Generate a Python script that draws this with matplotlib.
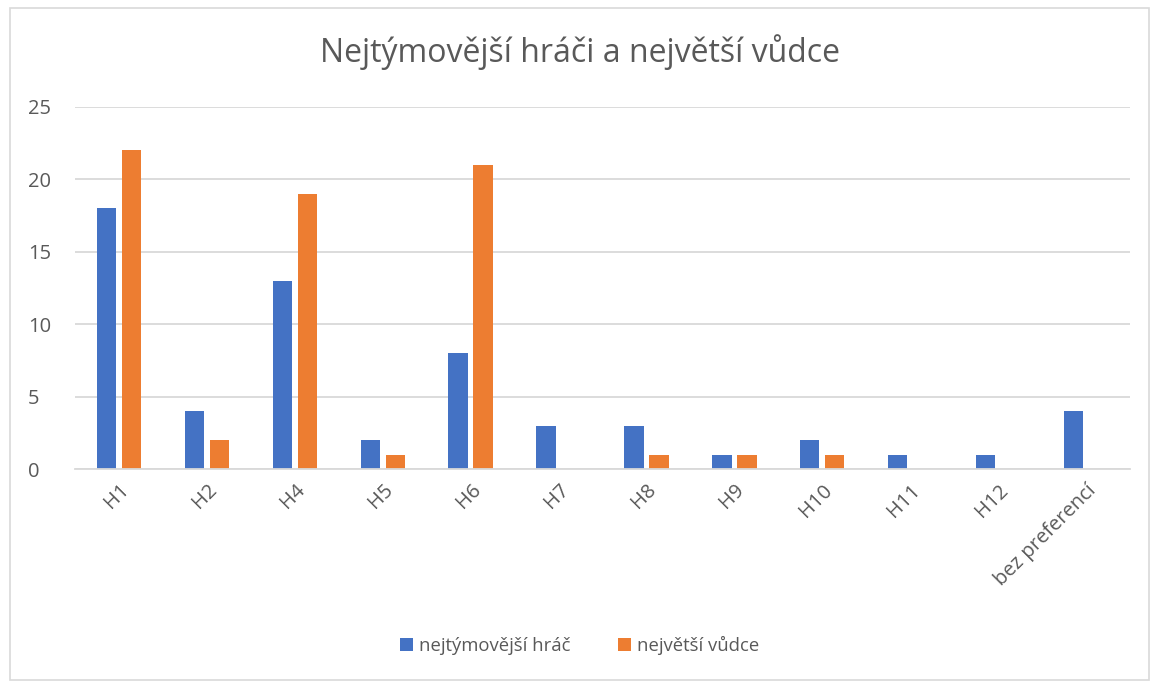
import numpy as np
import matplotlib.pyplot as plt
from matplotlib.patches import Rectangle

categories = ["H1", "H2", "H4", "H5", "H6", "H7", "H8", "H9", "H10", "H11", "H12", "bez preferencí"]
team_players = [18, 4, 13, 2, 8, 3, 3, 1, 2, 1, 1, 4]
leaders = [22, 2, 19, 1, 21, 0, 1, 1, 1, 0, 0, 0]

plt.rcParams['font.family'] = ['Open Sans', 'DejaVu Sans']
text_color = "#595959"
grid_color = "#d9d9d9"

fig = plt.figure(figsize=(11.59, 6.88), dpi=100)
ax = fig.add_axes([0.0647, 0.3183, 0.9103, 0.5262])

x = np.arange(len(categories))
w = 0.22
ax.bar(x - 0.142, team_players, w, color="#4472c4", label="nejtýmovější hráč")
ax.bar(x + 0.142, leaders, w, color="#ed7d31", label="největší vůdce")

ax.set_xlim(-0.5, len(categories) - 0.5)
ax.set_ylim(0, 25)
ax.set_yticks(range(0, 26, 5))
ax.yaxis.grid(True, color=grid_color, linewidth=1.3)
ax.set_axisbelow(True)
for s in ["top", "right", "left"]:
    ax.spines[s].set_visible(False)
ax.spines["bottom"].set_color(grid_color)
ax.spines["bottom"].set_linewidth(1.3)
ax.tick_params(axis="both", length=0, colors=text_color, labelsize=14.5)
ax.tick_params(axis="y", pad=34)
ax.tick_params(axis="x", pad=8)
ax.set_xticks(x)
ax.set_xticklabels(categories, rotation=45, ha="right", rotation_mode="anchor")
for lbl in ax.get_yticklabels():
    lbl.set_horizontalalignment("left")

fig.text(0.5, 0.924, "Nejtýmovější hráči a největší vůdce", ha="center", va="center",
         fontsize=23, color=text_color)

fig.legend(loc="center", bbox_to_anchor=(0.5, 0.062), ncol=2, frameon=False,
           fontsize=13.3, labelcolor=text_color, handlelength=0.7, handleheight=0.7,
           handletextpad=0.3, columnspacing=2.6)

fig.patches.append(Rectangle((0.009, 0.012), 0.982, 0.976, transform=fig.transFigure,
                             fill=False, edgecolor="#d9d9d9", linewidth=1.2))

fig.savefig("out.png", dpi=100)
